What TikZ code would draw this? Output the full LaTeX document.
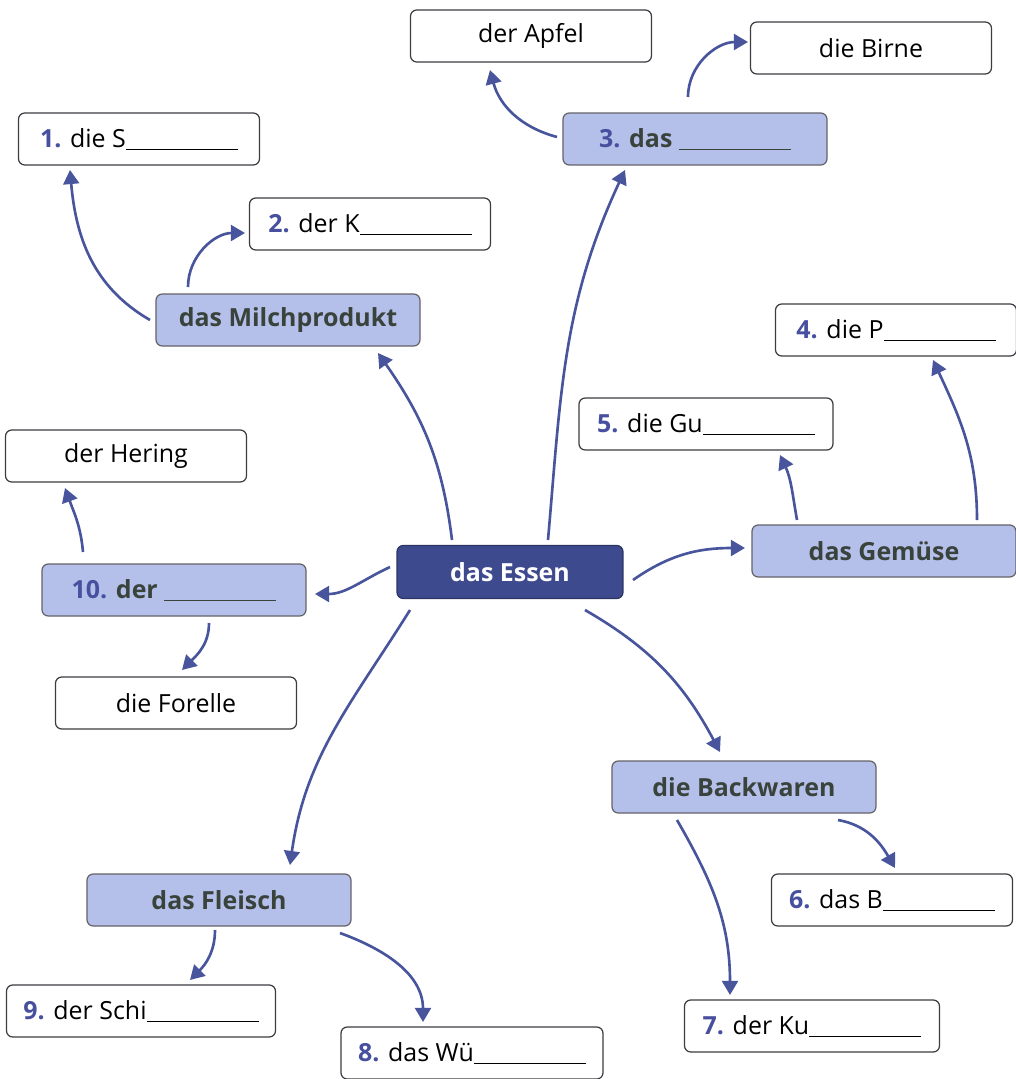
\documentclass[tikz,border=0pt]{standalone}
\usepackage{fontspec}
\setmainfont{Open Sans}
\usetikzlibrary{arrows.meta, positioning}

\definecolor{essenblue}{RGB}{62, 74, 142}
\definecolor{catfill}{RGB}{180, 192, 234}
\definecolor{catgray}{RGB}{58, 66, 60}
\definecolor{numblue}{RGB}{70, 80, 158}
\definecolor{arrowblue}{RGB}{72, 84, 156}
\definecolor{boxline}{RGB}{60, 60, 66}

\newcommand{\blank}{\rule[-1.5pt]{2.24cm}{0.5pt}}
\newcommand{\num}[1]{\textbf{\textcolor{numblue}{#1}}}

\begin{document}
\begin{tikzpicture}[x=0.02cm, y=0.02cm,
  wordbox/.style={draw=boxline, fill=white, rounded corners=3.5pt, line width=0.7pt,
    minimum width=4.82cm, minimum height=1.04cm, inner sep=0pt,
    font=\fontsize{14.2}{17}\selectfont},
  catbox/.style={draw=boxline!80, fill=catfill, rounded corners=3.5pt, line width=0.7pt,
    minimum width=5.28cm, minimum height=1.04cm, inner sep=0pt,
    font=\fontsize{14.2}{17}\selectfont\bfseries, text=catgray},
  essenbox/.style={draw=essenblue!70!black, fill=essenblue, rounded corners=3.5pt, line width=0.7pt,
    minimum width=4.52cm, minimum height=1.06cm, inner sep=0pt,
    font=\fontsize{14.2}{17}\selectfont\bfseries, text=white},
  arr/.style={draw=arrowblue, line width=1.5pt, -{Triangle[length=8pt, width=9pt]}}]

  \useasboundingbox (0,0) rectangle (1016,-1079);

  % centre
  \node[essenbox] (essen) at (510,-572) {das Essen};

  % categories
  \node[catbox] (milch) at (288,-320) {das Milchprodukt};
  \node[catbox] (obst) at (695,-139) {\textcolor{numblue}{3.} das \blank};
  \node[catbox] (gemuese) at (884,-551) {das Gemüse};
  \node[catbox] (fisch) at (174,-590) {\textcolor{numblue}{10.} der \blank};
  \node[catbox] (backw) at (744,-787) {die Backwaren};
  \node[catbox] (fleisch) at (219,-900) {das Fleisch};

  % words
  \node[wordbox] (apfel) at (531,-36) {der Apfel};
  \node[wordbox] (birne) at (871,-48) {die Birne};
  \node[wordbox] (sahne) at (139,-139) {\num{1.} die S\blank};
  \node[wordbox] (kaese) at (370,-224) {\num{2.} der K\blank};
  \node[wordbox] (paprika) at (896,-330) {\num{4.} die P\blank};
  \node[wordbox, minimum width=5.08cm] (gurke) at (706,-424) {\num{5.} die Gu\blank};
  \node[wordbox] (hering) at (126,-456) {der Hering};
  \node[wordbox] (forelle) at (176,-703) {die Forelle};
  \node[wordbox] (brot) at (892,-900) {\num{6.} das B\blank};
  \node[wordbox, minimum width=5.1cm] (kuchen) at (812,-1026) {\num{7.} der Ku\blank};
  \node[wordbox, minimum width=5.38cm] (schinken) at (141,-1011) {\num{9.} der Schi\blank};
  \node[wordbox, minimum width=5.24cm] (wurst) at (472,-1053) {\num{8.} das Wü\blank};

  % from the centre
  \draw[arr] ([shift={(-58,32)}]essen.center) to[out=97, in=-55] ([shift={(90,-33)}]milch.center);
  \draw[arr] ([shift={(38,32)}]essen.center) to[out=85, in=-115] ([shift={(-70,-31)}]obst.center);
  \draw[arr] ([shift={(123,-8)}]essen.center) to[out=35, in=180] ([shift={(-139,3)}]gemuese.center);
  \draw[arr] ([shift={(-120,5)}]essen.center) to[out=-155, in=0] ([shift={(141,-4)}]fisch.center);
  \draw[arr] ([shift={(-100,-38)}]essen.center) to[out=-122, in=82] ([shift={(71,35)}]fleisch.center);
  \draw[arr] ([shift={(75,-38)}]essen.center) to[out=-30, in=118] ([shift={(-24,35)}]backw.center);

  % from the categories
  \draw[arr] ([shift={(-138,0)}]milch.center) to[out=150, in=-85] ([shift={(-69,-31)}]sahne.center);
  \draw[arr] ([shift={(-100,33)}]milch.center) to[out=90, in=180] ([shift={(-125,-9)}]kaese.center);
  \draw[arr] ([shift={(-138,2)}]obst.center) to[out=165, in=-75] ([shift={(-41,-34)}]apfel.center);
  \draw[arr] ([shift={(-7,42)}]obst.center) to[out=90, in=180] ([shift={(-123,6)}]birne.center);
  \draw[arr] ([shift={(93,31)}]gemuese.center) to[out=90, in=-65] ([shift={(37,-30)}]paprika.center);
  \draw[arr] ([shift={(-87,31)}]gemuese.center) to[out=100, in=-65] ([shift={(74,-31)}]gurke.center);
  \draw[arr] ([shift={(-91,38)}]fisch.center) to[out=95, in=-70] ([shift={(-61,-32)}]hering.center);
  \draw[arr] ([shift={(35,-33)}]fisch.center) to[out=-90, in=45] ([shift={(6,33)}]forelle.center);
  \draw[arr] ([shift={(94,-33)}]backw.center) to[out=-10, in=120] ([shift={(3,32)}]brot.center);
  \draw[arr] ([shift={(-67,-33)}]backw.center) to[out=-60, in=90] ([shift={(-82,31)}]kuchen.center);
  \draw[arr] ([shift={(-4,-30)}]fleisch.center) to[out=-90, in=45] ([shift={(49,31)}]schinken.center);
  \draw[arr] ([shift={(121,-33)}]fleisch.center) to[out=-20, in=90] ([shift={(-49,31)}]wurst.center);
\end{tikzpicture}
\end{document}
